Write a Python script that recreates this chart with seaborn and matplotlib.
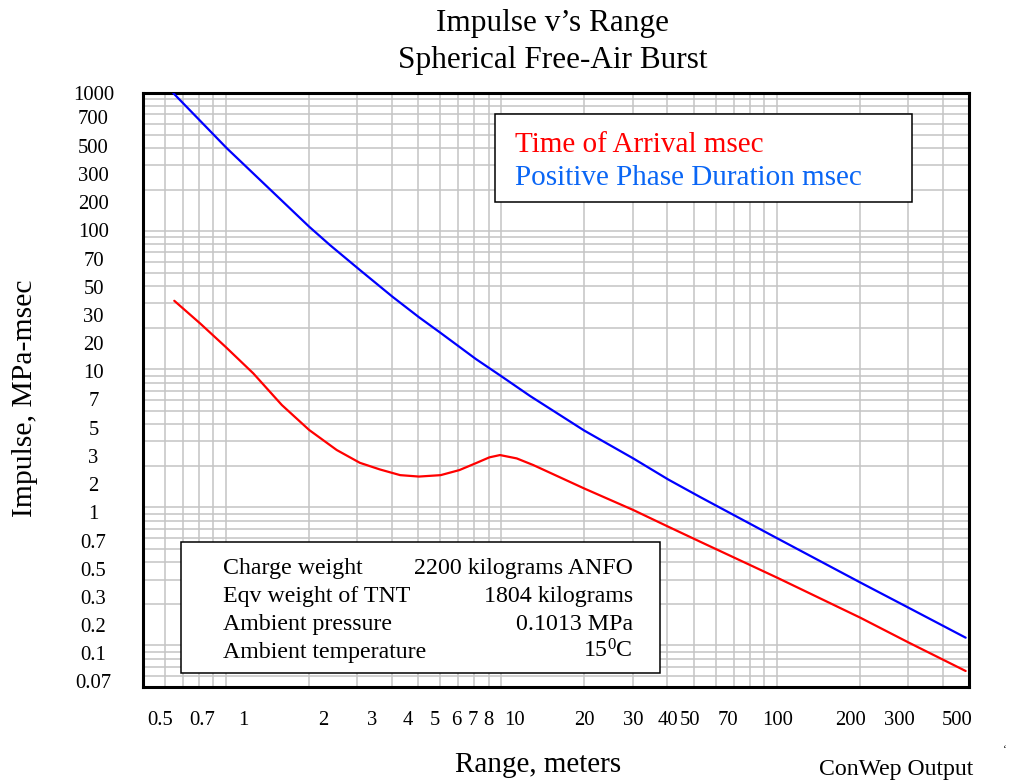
import numpy as np
import matplotlib
matplotlib.use("Agg")
import matplotlib.pyplot as plt
import seaborn as sns
from matplotlib.ticker import LogLocator, NullFormatter
from matplotlib.patches import Rectangle

# ---------------- data ----------------
range_ppd = [0.645, 1.01, 2.01, 2.39, 3.07, 4.03, 5.03, 6.0, 8.09, 10.05, 12.73,
             20.0, 30.2, 40.4, 52.7, 100.5, 200.8, 301, 485]
ppd_msec = [1000, 398, 107.6, 79.3, 52.3, 33.5, 23.8, 18.44, 11.86, 8.85, 6.40,
            3.60, 2.256, 1.590, 1.188, 0.596, 0.286, 0.1875, 0.1138]

range_toa = [0.651, 0.807, 1.00, 1.26, 1.60, 2.01, 2.53, 3.07, 3.63, 4.30, 5.03, 6.03,
             7.05, 8.06, 9.06, 9.90, 11.39, 13.1, 20.0, 30.2, 40.4, 52.7, 100.5,
             200.8, 301, 485]
toa_msec = [31.3, 21.5, 14.5, 9.33, 5.50, 3.63, 2.60, 2.10, 1.88, 1.71, 1.67, 1.71,
            1.86, 2.08, 2.30, 2.39, 2.26, 2.02, 1.37, 0.955, 0.724, 0.564, 0.309,
            0.159, 0.105, 0.0653]

x_tick_labels = ["0.5", "0.7", "1", "2", "3", "4", "5", "6", "7", "8", "10",
                 "20", "30", "40", "50", "70", "100", "200", "300", "500"]
y_tick_labels = ["1000", "700", "500", "300", "200", "100", "70", "50", "30", "20",
                 "10", "7", "5", "3", "2", "1", "0.7", "0.5", "0.3", "0.2", "0.1", "0.07"]

legend_labels = ["Time of Arrival msec", "Positive Phase Duration msec"]
info_names = ["Charge weight", "Eqv weight of TNT", "Ambient pressure", "Ambient temperature"]
info_values = ["2200 kilograms ANFO", "1804 kilograms", "0.1013 MPa", r"15$^{0}$C"]

# ---------------- layout (pixels in a 1012x780 canvas) ----------------
W, H = 1012, 780
AX_L, AX_R, AX_T, AX_B = 142.7, 969.3, 93.0, 687.0
XLIM = (0.5, 500)
YLIM = (0.05, 1000)
# label text positions as laid out in the reference
x_label_px = [159.7, 202.5, 243, 323, 371.7, 408, 435, 456, 473, 488, 514,
              584, 633.7, 668, 690, 728, 777.5, 851, 899, 957.5]
y_label_px = [max(AX_T, 89.3 + 28.2 * i) for i in range(len(y_tick_labels))]


def fx(px):
    return px / W


def fy(py):
    return 1 - py / H


def x_at(px):
    f = (px - AX_L) / (AX_R - AX_L)
    return 10 ** (np.log10(XLIM[0]) + f * np.log10(XLIM[1] / XLIM[0]))


def y_at(py):
    f = (AX_B - py) / (AX_B - AX_T)
    return 10 ** (np.log10(YLIM[0]) + f * np.log10(YLIM[1] / YLIM[0]))


sns.set_theme(style="white")
plt.rcParams["font.family"] = ["Liberation Serif", "DejaVu Serif"]
plt.rcParams["text.color"] = "black"
plt.rcParams["axes.labelcolor"] = "black"
plt.rcParams["xtick.color"] = "black"
plt.rcParams["ytick.color"] = "black"
plt.rcParams["mathtext.fontset"] = "custom"
plt.rcParams["mathtext.rm"] = "Liberation Serif"
plt.rcParams["mathtext.it"] = "Liberation Serif:italic"
plt.rcParams["mathtext.bf"] = "Liberation Serif:bold"

fig = plt.figure(figsize=(W / 100, H / 100), dpi=100)
fig.patch.set_facecolor("white")
ax = fig.add_axes([fx(AX_L), fy(AX_B), (AX_R - AX_L) / W, (AX_B - AX_T) / H])

sns.lineplot(x=range_ppd, y=ppd_msec, color="#0000ff", linewidth=1.6, ax=ax,
             estimator=None, sort=False, zorder=3)
sns.lineplot(x=range_toa, y=toa_msec, color="#ff0000", linewidth=1.6, ax=ax,
             estimator=None, sort=False, zorder=3)

ax.set_xscale("log")
ax.set_yscale("log")
ax.set_xlim(*XLIM)
ax.set_ylim(*YLIM)
ax.set_xlabel("")
ax.set_ylabel("")

ax.set_xticks([x_at(p) for p in x_label_px], x_tick_labels)
ax.set_yticks([y_at(p) for p in y_label_px], y_tick_labels)
ax.xaxis.set_minor_locator(LogLocator(base=10, subs=np.arange(1, 10), numticks=200))
ax.yaxis.set_minor_locator(LogLocator(base=10, subs=np.arange(1, 10), numticks=200))
ax.xaxis.set_minor_formatter(NullFormatter())
ax.yaxis.set_minor_formatter(NullFormatter())

ax.grid(False, which="major")
ax.grid(True, which="minor", color="#c4c4c4", linewidth=1.1)
ax.set_axisbelow(True)
ax.tick_params(which="both", length=0)
ax.tick_params(axis="x", pad=17.6, labelsize=14.9, labelcolor="black")
ax.tick_params(axis="y", pad=35.4, labelsize=14.9, labelcolor="black")
for lab in ax.get_yticklabels():
    lab.set_horizontalalignment("center")

for s in ax.spines.values():
    s.set_visible(True)
    s.set_color("black")
    s.set_linewidth(2.2)

# titles and axis labels
fig.text(fx(552.5), fy(31.5), "Impulse v\u2019s Range", ha="center", va="baseline", fontsize=22.5)
fig.text(fx(552.5), fy(68), "Spherical Free-Air Burst", ha="center", va="baseline", fontsize=22.5)
fig.text(fx(25), fy(398), "Impulse, MPa-msec", rotation=90, ha="center", va="center", fontsize=21.3)
fig.text(fx(538), fy(772.5), "Range, meters", ha="center", va="baseline", fontsize=21)
fig.text(fx(973.3), fy(775), "ConWep Output", ha="right", va="baseline", fontsize=17.1)
fig.text(fx(1005), fy(752), "\u2018", ha="center", va="baseline", fontsize=8)

# legend box
fig.add_artist(Rectangle((fx(495), fy(201.7)), (912.3 - 495) / W, (201.7 - 114) / H,
                         transform=fig.transFigure, facecolor="white", edgecolor="black",
                         linewidth=1.1, zorder=5))
fig.text(fx(515), fy(151.5), legend_labels[0], color="#ff0000", ha="left", va="baseline",
         fontsize=21, zorder=6)
fig.text(fx(515), fy(185), legend_labels[1], color="#0a66f5", ha="left", va="baseline",
         fontsize=21, zorder=6)

# info box
fig.add_artist(Rectangle((fx(181), fy(673.3)), (660 - 181) / W, (673.3 - 542.3) / H,
                         transform=fig.transFigure, facecolor="white", edgecolor="black",
                         linewidth=1.1, zorder=5))
for i, (nm, val) in enumerate(zip(info_names, info_values)):
    base = 574.3 + 27.9 * i
    fig.text(fx(223.3), fy(base), nm, ha="left", va="baseline", fontsize=17.2, zorder=6)
    fig.text(fx(632.7), fy(base), val, ha="right", va="baseline", fontsize=17.2, zorder=6)

fig.savefig("out.png", dpi=100, facecolor="white")
